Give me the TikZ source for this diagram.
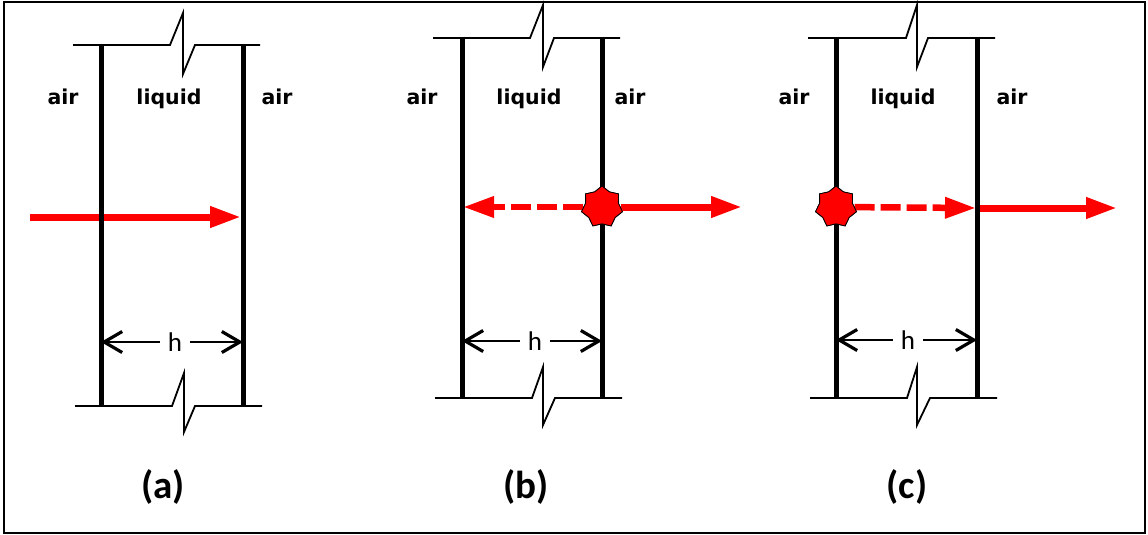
\documentclass[tikz,border=0pt]{standalone}
\usepackage{fontspec}
\setmainfont{DejaVu Sans}
\newfontfamily\carl{Carlito}
\usetikzlibrary{arrows.meta,shapes.geometric}
\tikzset{
  wall/.style={line width=5pt},
  edgeline/.style={line width=1.8pt, line join=miter},
  medium/.style={font=\bfseries\fontsize{20.5}{22}\selectfont, anchor=base, inner sep=0pt},
  caption/.style={font=\carl\bfseries\fontsize{39}{42}\selectfont, inner sep=0pt},
  hlabel/.style={font=\carl\fontsize{27}{29}\selectfont, minimum width=30pt, inner sep=0pt},
  dim/.style={line width=2pt, -{Straight Barb[length=18pt,width=21pt,line width=3.2pt]}},
  redarrow/.style={draw=red, line width=7pt, -{Triangle[length=31pt,width=20pt,fill=red]}},
  reddash/.style={redarrow, line width=6.5pt, dash pattern=on 20pt off 6pt},
  burst/.style={star, star points=7, star point ratio=1.25, minimum size=42pt, inner sep=0pt, fill=red, draw=black, line width=0.8pt},
}
\begin{document}
\begin{tikzpicture}[x=1pt,y=-1pt]
\useasboundingbox (0,0) rectangle (1148,535);
\draw[line width=2pt] (4,2) rectangle (1145,533);

% ---------- panel (a) ----------
\coordinate (aS) at (30,217);
\coordinate (aE) at (241,217);
\draw[redarrow] (aS) -- (aE);
\draw[wall] (101,44) coordinate (aLt) -- (101,405) coordinate (aLb);
\draw[wall] (243,44) coordinate (aRt) -- (243,405) coordinate (aRb);
\draw[edgeline] (73,45) -- (170,45) -- (183,13) -- (183,74) -- (195,45) -- (260,45);
\draw[edgeline] (75,406) -- (172,406) -- (184,373) -- (184,432) -- (195,406) -- (262,406);
\node[medium] (aair1) at (63,104) {air};
\node[medium] (aliq) at (169,104) {liquid};
\node[medium] (aair2) at (277,104) {air};
\node[hlabel] (ah) at (175,342) {h};
\coordinate (ahL) at (101,342);
\coordinate (ahR) at (243,342);
\draw[dim] (ah) -- (ahL);
\draw[dim] (ah) -- (ahR);
\node[caption] (capa) at (163,487) {(a)};

% ---------- panel (b) ----------
\coordinate (bL) at (463,207);
\coordinate (bR) at (742,207);
\node[burst] (sb) at (602,207) {};
\draw[reddash] (sb) -- (bL);
\draw[redarrow] (sb) -- (bR);
\draw[wall] (462,37) -- (462,397);
\draw[wall] (602,37) -- (602,397);
\node[burst] at (602,207) {};
\draw[edgeline] (433,38) -- (530,38) -- (543,5) -- (543,67) -- (554,38) -- (620,38);
\draw[edgeline] (435,398) -- (532,398) -- (543,367) -- (543,425) -- (555,398) -- (622,398);
\node[medium] (bair1) at (422,104) {air};
\node[medium] (bliq) at (529,104) {liquid};
\node[medium] (bair2) at (630,104) {air};
\node[hlabel] (bh) at (535,341) {h};
\coordinate (bhL) at (462,341);
\coordinate (bhR) at (602,341);
\draw[dim] (bh) -- (bhL);
\draw[dim] (bh) -- (bhR);
\node[caption] (capb) at (526,487) {(b)};

% ---------- panel (c) ----------
\coordinate (cM) at (976,208);
\coordinate (cR) at (1117,208);
\node[burst] (sc) at (836,207) {};
\draw[reddash] (sc) -- (cM);
\draw[redarrow] (cM) -- (cR);
\draw[wall] (836,37) -- (836,397);
\draw[wall] (977,37) -- (977,397);
\node[burst] at (836,207) {};
\draw[edgeline] (808,38) -- (906,38) -- (917,5) -- (917,67) -- (928,38) -- (995,38);
\draw[edgeline] (810,398) -- (907,398) -- (917,367) -- (917,425) -- (930,398) -- (997,398);
\node[medium] (cair1) at (794,104) {air};
\node[medium] (cliq) at (903,104) {liquid};
\node[medium] (cair2) at (1012,104) {air};
\node[hlabel] (ch) at (908,340) {h};
\coordinate (chL) at (836,340);
\coordinate (chR) at (977,340);
\draw[dim] (ch) -- (chL);
\draw[dim] (ch) -- (chR);
\node[caption] (capc) at (907,487) {(c)};
\end{tikzpicture}
\end{document}
